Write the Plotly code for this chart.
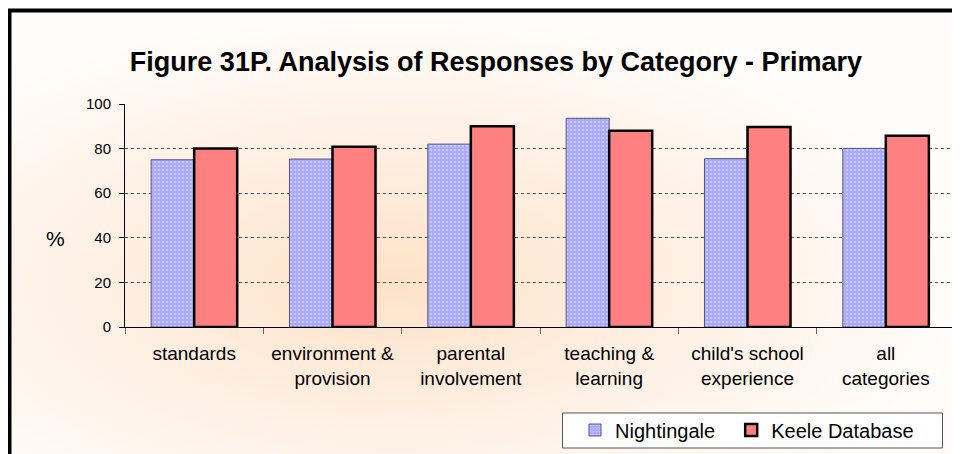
import base64
import plotly.graph_objects as go

categories = ["standards", "environment &<br>provision", "parental<br>involvement",
              "teaching &<br>learning", "child's school<br>experience", "all<br>categories"]
nightingale = [75, 75.3, 82, 93.6, 75.5, 80.1]
keele = [80, 80.8, 90, 88, 89.7, 85.8]
y_ticks = [0, 20, 40, 60, 80, 100]

W, H = 960, 454
OX, OY = 8, 8  # page body margin: the figure is drawn 8px right/down on screen
# target plot area on screen: x 125..955, y 104..327
L, T = 125 - OX, 104 - OY
R, B = W - (955 - OX), H - (327 - OY)
PW, PH = W - L - R, H - T - B


def px(x):  # screen x -> paper x
    return (x - OX - L) / PW


def py(y):  # screen y -> paper y
    return (H - B - (y - OY)) / PH


svg = f'''<svg xmlns="http://www.w3.org/2000/svg" width="{W}" height="{H}" viewBox="0 0 {W} {H}" preserveAspectRatio="none">
<defs><radialGradient id="g" cx="0.4" cy="0.6" r="0.62" fx="0.4" fy="0.6">
<stop offset="0" stop-color="#fde2c8"/><stop offset="0.5" stop-color="#fef0e4"/>
<stop offset="1" stop-color="#fffdfb"/></radialGradient></defs>
<rect x="0" y="0" width="{W}" height="{H}" fill="#ffffff"/>
<rect x="2" y="2" width="{W}" height="{H}" fill="url(#g)"/>
</svg>'''
src = "data:image/svg+xml;base64," + base64.b64encode(svg.encode()).decode()

fig = go.Figure()
fig.add_trace(go.Bar(
    x=categories, y=nightingale, name="Nightingale" + "\u00a0" * 2,
    marker=dict(color="#a8a8ff", line=dict(color="#55557a", width=1),
                pattern=dict(shape=".", fgcolor="#e8e8ff", bgcolor="#a8a8ff",
                             size=4, solidity=0.35)),
))
fig.add_trace(go.Bar(
    x=categories, y=keele, name="Keele Database",
    marker=dict(color="#ff8080", line=dict(color="black", width=2.5)),
))

fig.update_layout(
    width=W, height=H,
    margin=dict(l=L, r=R, t=T, b=B, autoexpand=False),
    paper_bgcolor="#fffdfb",
    plot_bgcolor="white",
    barmode="group", bargap=0.378, bargroupgap=0,
    font=dict(family="Arial, Liberation Sans, sans-serif", color="black"),
    title=dict(text="<b>Figure 31P. Analysis of Responses by Category - Primary</b>",
               x=(496 - OX) / W, xanchor="center", y=1 - (62 - OY) / H, yanchor="middle",
               font=dict(size=27, color="black")),
    showlegend=True,
    legend=dict(orientation="h", x=px(575), y=py(430), xanchor="left", yanchor="middle",
                bgcolor="rgba(0,0,0,0)", borderwidth=0,
                font=dict(size=20), itemwidth=30, traceorder="normal"),
    xaxis=dict(showline=True, linecolor="black", linewidth=1, ticks="outside",
               tickson="boundaries", ticklen=6, tickcolor="#666666", tickangle=0,
               ticklabelstandoff=9,
               tickfont=dict(size=19), showgrid=False, mirror=False),
    yaxis=dict(range=[0, 100], tickvals=y_ticks, showline=True, linecolor="black",
               linewidth=1, ticks="outside", ticklen=5, tickcolor="black",
               ticklabelstandoff=5,
               tickfont=dict(size=15), showgrid=True, gridcolor="#555555",
               griddash="dot", gridwidth=1, zeroline=False),
    images=[dict(source=src, xref="paper", yref="paper", x=px(OX), y=py(OY),
                 sizex=W / PW, sizey=H / PH, sizing="stretch", layer="below",
                 xanchor="left", yanchor="top")],
    shapes=[
        dict(type="rect", xref="paper", yref="paper", x0=px(9.5), y0=py(H + 20),
             x1=px(W + 20), y1=py(10.5), line=dict(color="black", width=4)),
        dict(type="line", xref="paper", yref="paper", x0=1, x1=1, y0=0, y1=1,
             line=dict(color="#888888", width=1)),
        dict(type="rect", xref="paper", yref="paper", x0=px(562.5), x1=px(942.5),
             y0=py(448), y1=py(413), fillcolor="white",
             line=dict(color="#555555", width=1)),
    ],
    annotations=[dict(text="%", xref="paper", yref="paper", x=px(44), y=py(238),
                      showarrow=False, font=dict(size=21))],
)

fig.write_html("out.html")
